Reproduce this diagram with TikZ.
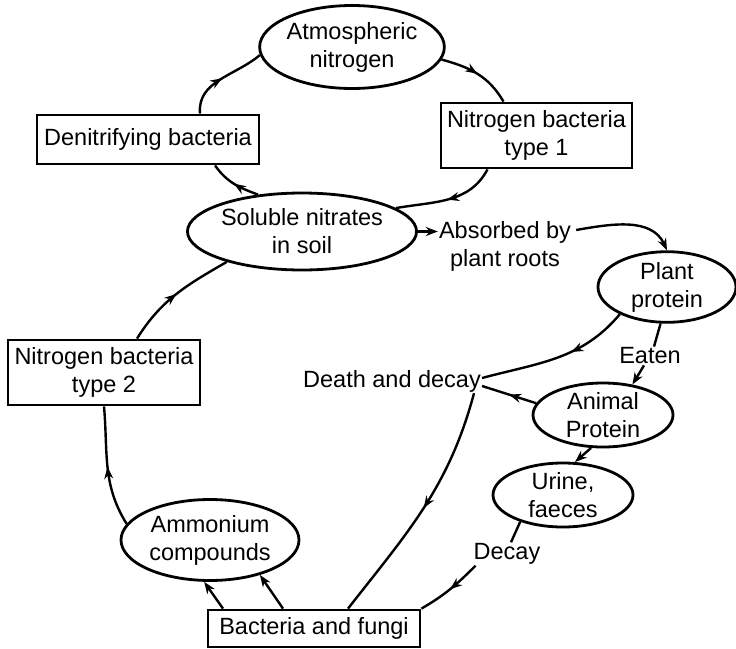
\documentclass[tikz,border=0pt]{standalone}
\usepackage{fontspec}
\setmainfont{Liberation Sans}
\usetikzlibrary{shapes.geometric,arrows.meta,decorations.markings}
\begin{document}
\begin{tikzpicture}[
  every node/.style={font=\fontsize{23.5}{28}\selectfont, align=center},
  ell/.style={draw, ellipse, line width=2.8pt, inner sep=0pt},
  box/.style={draw, rectangle, line width=2.8pt, inner sep=0pt},
  lbl/.style={inner sep=1pt},
  plain/.style={line width=2.4pt},
  conn/.style={line width=2.4pt, -{Stealth[length=12pt,width=9pt]}},
  midarr/.style={line width=2.4pt, postaction={decorate},
    decoration={markings, mark=at position #1 with {\arrow{Stealth[length=12pt,width=9pt]}}}},
  midarr/.default=0.5
]
\useasboundingbox (0,0) rectangle (736pt,-648pt);
\begin{scope}[x=1pt,y=1pt]
\node[ell, minimum width=178pt, minimum height=83pt] (atm) at (352,-47) {Atmospheric\\nitrogen};
\node[box, minimum width=191pt, minimum height=65pt] (nb1) at (536.5,-135.5) {Nitrogen bacteria\\type 1};
\node[box, minimum width=222pt, minimum height=49pt] (den) at (148,-139.5) {Denitrifying bacteria};
\node[ell, minimum width=178pt, minimum height=77pt] (sol) at (302,-231.5) {Soluble nitrates\\in soil};
\node[lbl] (abs) at (505,-246) {Absorbed by\\plant roots};
\node[ell, minimum width=138pt, minimum height=62pt] (pp) at (667,-287) {Plant\\protein};
\node[lbl] (eat) at (650,-356) {Eaten};
\node[lbl] (dd) at (392,-381) {Death and decay};
\node[ell, minimum width=140pt, minimum height=64pt] (ap) at (603,-415) {Animal\\Protein};
\node[box, minimum width=192pt, minimum height=65pt] (nb2) at (104,-372.5) {Nitrogen bacteria\\type 2};
\node[ell, minimum width=140pt, minimum height=64pt] (ur) at (563,-495) {Urine,\\faeces};
\node[lbl] (dec) at (507,-554) {Decay};
\node[ell, minimum width=178pt, minimum height=81pt] (amm) at (210,-540) {Ammonium\\compounds};
\node[box, minimum width=212pt, minimum height=37pt] (bf) at (314,-628.5) {Bacteria and fungi};

% cycle top
\draw[midarr] (atm.-8) to[out=-15,in=120] ([xshift=-33pt]nb1.north);
\draw[midarr] ([xshift=-49pt]nb1.south) to[out=-118,in=10] (sol.14);
\draw[midarr] (sol.140) to[out=160,in=-55] ([xshift=67pt]den.south);
\draw[midarr] ([xshift=52pt]den.north) to[out=95,in=-140] (atm.185);

% plant branch
\draw[conn] (sol.east) -- (sol.east -| abs.west);
\draw[conn] ([shift={(4pt,16pt)}]abs.east) to[out=10,in=115] (pp.north);
\draw[midarr=0.4] (pp.210) to[out=-130,in=15] ([yshift=3pt]dd.east);
\draw[plain] (pp.-100) -- ([xshift=4pt]eat.north);
\draw[conn] ([xshift=-6pt]eat.south) -- (ap.46);
\draw[midarr] (ap.170) -- ([yshift=-5pt]dd.east);
\draw[midarr] ([xshift=-8pt]dd.south east) to[out=-105,in=52] ([xshift=34pt]bf.north);
\draw[conn] (ap.-110) -- (ur.70);
\draw[plain] (ur.212) -- ([xshift=4pt]dec.north);
\draw[midarr] ([xshift=3pt]dec.south west) to[out=-135,in=30] (bf.north east);

% lower cycle
\draw[conn] ([xshift=-91pt]bf.north) -- (amm.-98);
\draw[conn] ([xshift=-31pt]bf.north) -- (amm.-35);
\draw[midarr] (amm.169) to[out=122,in=-85] (nb2.south);
\draw[midarr] ([xshift=33pt]nb2.north) to[out=58,in=-150] (sol.202);
\end{scope}
\end{tikzpicture}
\end{document}
